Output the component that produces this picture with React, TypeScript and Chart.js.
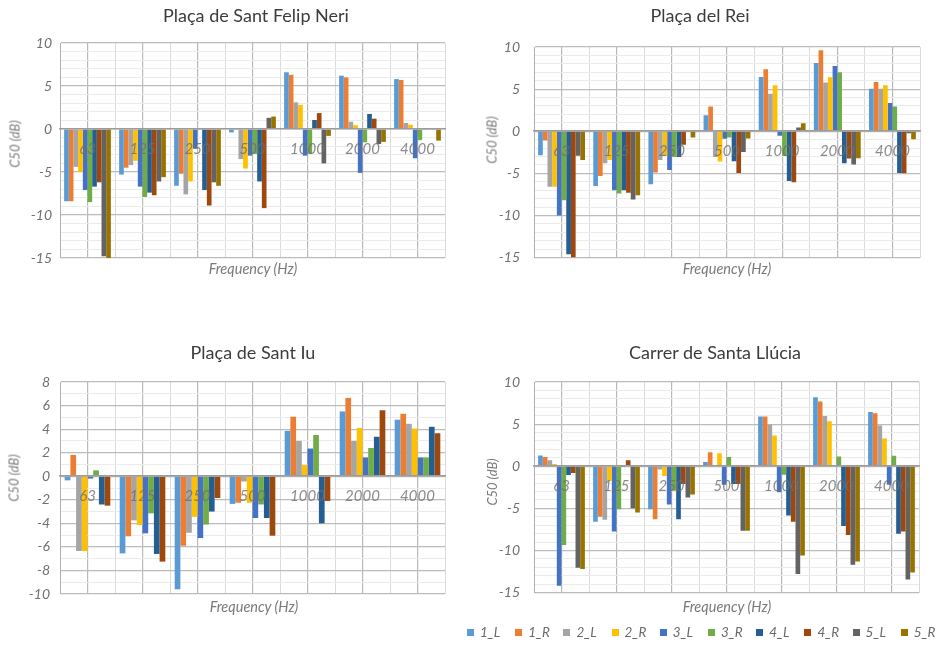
import React, { useEffect, useRef } from 'react';
import { Chart, registerables } from 'chart.js';

Chart.register(...registerables);

// Octave-band centre frequencies (Hz)
const frequencies = ['63', '125', '250', '500', '1000', '2000', '4000'];

// Receiver / channel names and their bar colours
const seriesNames = ['1_L', '1_R', '2_L', '2_R', '3_L', '3_R', '4_L', '4_R', '5_L', '5_R'];
const seriesColors = [
  '#5B9BD5', '#ED7D31', '#A5A5A5', '#FFC000', '#4472C4',
  '#70AD47', '#255E91', '#9E480E', '#636363', '#997300',
];

// C50 (dB) per channel, one row per channel, one value per frequency band
const santFelipNeri = [
  [-8.4, -5.3, -6.6, -0.4, 6.6, 6.2, 5.8],
  [-8.4, -4.5, -5.2, -0.1, 6.3, 6.0, 5.7],
  [-4.4, -4.2, -7.6, -3.5, 3.1, 0.85, 0.7],
  [-5.0, -3.7, -6.1, -4.6, 2.8, 0.45, 0.5],
  [-7.1, -6.7, -2.3, -3.1, -3.1, -5.1, -3.4],
  [-8.5, -7.9, -0.1, -2.9, -2.9, -1.55, -1.3],
  [-6.7, -7.4, -7.1, -6.1, 1.05, 1.75, -0.1],
  [-6.2, -7.7, -8.9, -9.2, 1.85, 1.2, -0.05],
  [-14.8, -6.1, -6.2, 1.3, -4.0, -1.75, -0.1],
  [-15.0, -5.6, -6.6, 1.45, -0.8, -1.5, -1.35],
];

const placaDelRei = [
  [-2.85, -6.5, -6.3, 1.9, 6.45, 8.1, 5.05],
  [-1.1, -5.3, -4.9, 2.95, 7.35, 9.6, 5.85],
  [-6.6, -3.8, -3.4, -3.05, 4.45, 5.8, 5.05],
  [-6.6, -3.4, -2.95, -3.6, 5.45, 6.4, 5.45],
  [-10.0, -7.0, -4.6, -0.9, -0.55, 7.75, 3.35],
  [-8.2, -7.4, -3.05, -0.75, -2.95, 7.0, 2.95],
  [-14.6, -7.0, -3.05, -3.55, -5.9, -3.8, -4.95],
  [-15.0, -7.3, -1.6, -4.95, -6.05, -3.25, -5.0],
  [-2.9, -8.1, -0.1, -2.45, 0.45, -3.95, -0.25],
  [-3.4, -7.6, -0.75, -0.85, 0.95, -3.2, -0.95],
];

const santIu = [
  [-0.35, -6.55, -9.6, -2.35, 3.85, 5.5, 4.8],
  [1.8, -5.1, -5.9, -2.25, 5.05, 6.65, 5.3],
  [-6.35, -3.75, -4.8, -0.45, 3.0, 3.0, 4.45],
  [-6.35, -4.15, -3.45, -2.25, 0.95, 4.1, 4.05],
  [-0.2, -4.85, -5.25, -3.55, 2.35, 1.6, 1.6],
  [0.5, -3.15, -4.1, -2.4, 3.5, 2.4, 1.6],
  [-2.4, -6.6, -3.0, -3.55, -4.0, 3.35, 4.2],
  [-2.5, -7.25, -1.85, -5.05, -2.1, 5.6, 3.65],
];

const santaLlucia = [
  [1.27, -6.6, -5.1, 0.5, 5.9, 8.2, 6.45],
  [1.1, -6.0, -6.3, 1.65, 5.9, 7.7, 6.3],
  [0.7, -6.35, -0.4, 0.05, 4.95, 5.95, 4.85],
  [0.27, -1.75, -1.15, 1.55, 3.65, 5.35, 3.3],
  [-14.2, -7.75, -4.55, -2.2, -3.1, -0.05, -2.2],
  [-9.35, -5.1, -2.9, 1.1, -1.0, 1.15, 1.25],
  [-1.05, -0.1, -6.3, -2.1, -5.85, -7.1, -8.0],
  [-0.8, 0.7, -2.1, -2.1, -6.6, -8.15, -7.75],
  [-12.05, -5.0, -3.7, -7.65, -12.8, -11.7, -13.45],
  [-12.2, -5.5, -3.35, -7.65, -10.6, -11.3, -12.6],
];

const FONT = 'Lato, "Liberation Sans", sans-serif';
const TICK_COLOR = '#707070';
const AXIS_TITLE_COLOR = '#7a7a7a';

type Box = { left: number; top: number; width: number; height: number };
type Area = { l: number; t: number; r: number; b: number };

type PanelSpec = {
  title: string;
  rows: number[][];
  yMin: number;
  yMax: number;
  major: number;
  canvas: Box;
  area: Area; // plot area in canvas coordinates
  tickPad: number;
  groupPct: number;
  titleAt: [number, number];
  yTitleAt: [number, number];
  xTitleAt: [number, number];
};

const panels: PanelSpec[] = [
  {
    title: 'Plaça de Sant Felip Neri',
    rows: santFelipNeri,
    yMin: -15, yMax: 10, major: 5,
    canvas: { left: 0, top: 0, width: 460, height: 280 },
    area: { l: 60, t: 43, r: 445, b: 258 },
    tickPad: 8, groupPct: 0.85,
    titleAt: [256, 15], yTitleAt: [15, 144], xTitleAt: [253, 269],
  },
  {
    title: 'Plaça del Rei',
    rows: placaDelRei,
    yMin: -15, yMax: 10, major: 5,
    canvas: { left: 465, top: 0, width: 474, height: 280 },
    area: { l: 69, t: 47, r: 455, b: 258 },
    tickPad: 14, groupPct: 0.85,
    titleAt: [700, 15], yTitleAt: [492, 140], xTitleAt: [727, 269],
  },
  {
    title: 'Plaça de Sant Iu',
    rows: santIu,
    yMin: -10, yMax: 8, major: 2,
    canvas: { left: 0, top: 335, width: 460, height: 280 },
    area: { l: 60, t: 47, r: 445, b: 259 },
    tickPad: 10, groupPct: 0.83,
    titleAt: [253, 352], yTitleAt: [14, 478], xTitleAt: [254, 607],
  },
  {
    title: 'Carrer de Santa Llúcia',
    rows: santaLlucia,
    yMin: -15, yMax: 10, major: 5,
    canvas: { left: 465, top: 335, width: 474, height: 280 },
    area: { l: 69, t: 47, r: 454, b: 259 },
    tickPad: 14, groupPct: 0.85,
    titleAt: [715, 352], yTitleAt: [492, 482], xTitleAt: [727, 607],
  },
];

function Panel({ spec }: { spec: PanelSpec }) {
  const ref = useRef<HTMLCanvasElement | null>(null);

  useEffect(() => {
    if (!ref.current) return;
    const { canvas, area, rows, yMin, yMax, major, tickPad, groupPct } = spec;
    const chart = new Chart(ref.current, {
      type: 'bar',
      data: {
        labels: frequencies,
        datasets: rows.map((vals, i) => ({
          label: seriesNames[i],
          data: vals,
          backgroundColor: seriesColors[i],
          borderWidth: 0,
          barPercentage: 1,
          categoryPercentage: groupPct,
          xAxisID: 'x',
          yAxisID: 'y',
        })),
      },
      options: {
        responsive: false,
        animation: false,
        devicePixelRatio: 1,
        layout: {
          padding: {
            left: 0,
            top: area.t,
            right: canvas.width - area.r,
            bottom: canvas.height - area.b,
          },
        },
        plugins: {
          legend: { display: false },
          tooltip: { enabled: false },
          title: { display: false },
        },
        scales: {
          // frequency labels sit on the zero line, drawn above the bars
          x: {
            type: 'category',
            position: { y: 0 },
            offset: true,
            grid: { display: false, drawTicks: false },
            border: { display: true, color: '#9c9c9c', width: 1.5, z: 1 },
            ticks: {
              z: 2,
              padding: 11,
              color: 'rgba(110,110,110,0.8)',
              font: { family: FONT, size: 15, style: 'italic' },
              maxRotation: 0,
              autoSkip: false,
            },
          },
          // light lines on category boundaries
          xEdges: {
            type: 'category',
            axis: 'x',
            position: 'bottom',
            offset: true,
            grid: { offset: true, color: '#dadada', lineWidth: 1, drawTicks: false },
            ticks: { display: false },
            border: { display: false },
          },
          // darker lines through category centres
          xMid: {
            type: 'category',
            axis: 'x',
            position: 'bottom',
            offset: true,
            grid: { offset: false, color: '#b9b9b9', lineWidth: 1.2, drawTicks: false },
            ticks: { display: false },
            border: { display: false },
          },
          y: {
            type: 'linear',
            position: 'left',
            min: yMin,
            max: yMax,
            afterFit: (scale: any) => {
              scale.width = area.l;
            },
            grid: {
              drawTicks: false,
              color: (ctx: any) =>
                Math.round(ctx.tick.value) % major === 0 ? '#bcbcbc' : '#ebebeb',
              lineWidth: (ctx: any) =>
                Math.round(ctx.tick.value) % major === 0 ? 1.2 : 1,
            },
            border: { display: true, color: '#b0b0b0', width: 1 },
            ticks: {
              stepSize: 1,
              autoSkip: false,
              maxTicksLimit: 100,
              padding: tickPad,
              color: TICK_COLOR,
              font: { family: FONT, size: 14, style: 'italic' },
              callback: (v: any) => (Math.round(v) % major === 0 ? String(Math.round(v)) : ''),
            },
          },
        },
      },
    });
    return () => chart.destroy();
  }, [spec]);

  const { canvas } = spec;
  const textBase: React.CSSProperties = {
    position: 'absolute',
    whiteSpace: 'nowrap',
    fontFamily: FONT,
    transform: 'translate(-50%, -50%)',
    lineHeight: 1,
  };

  return (
    <>
      <canvas
        ref={ref}
        width={canvas.width}
        height={canvas.height}
        style={{
          position: 'absolute',
          left: canvas.left,
          top: canvas.top,
          width: canvas.width,
          height: canvas.height,
        }}
      />
      <div
        style={{
          ...textBase,
          left: spec.titleAt[0],
          top: spec.titleAt[1],
          fontSize: 18,
          color: '#3c3c3c',
        }}
      >
        {spec.title}
      </div>
      <div
        style={{
          ...textBase,
          left: spec.yTitleAt[0],
          top: spec.yTitleAt[1],
          fontSize: 13,
          fontStyle: 'italic',
          color: AXIS_TITLE_COLOR,
          transform: 'translate(-50%, -50%) rotate(-90deg)',
        }}
      >
        C50 (dB)
      </div>
      <div
        style={{
          ...textBase,
          left: spec.xTitleAt[0],
          top: spec.xTitleAt[1],
          fontSize: 14.5,
          fontStyle: 'italic',
          color: AXIS_TITLE_COLOR,
        }}
      >
        Frequency (Hz)
      </div>
    </>
  );
}

function Legend() {
  return (
    <>
      {seriesNames.map((name, i) => (
        <div
          key={name}
          style={{
            position: 'absolute',
            left: 467 + i * 48.2,
            top: 625,
            height: 14,
            display: 'flex',
            alignItems: 'center',
            fontFamily: FONT,
            fontSize: 13.5,
            fontStyle: 'italic',
            color: '#6a6a6a',
            whiteSpace: 'nowrap',
          }}
        >
          <span
            style={{
              display: 'inline-block',
              width: 7,
              height: 7,
              background: seriesColors[i],
              marginRight: 6,
            }}
          />
          {name}
        </div>
      ))}
    </>
  );
}

export default function App() {
  return (
    <div
      style={{
        position: 'absolute',
        left: 0,
        top: 0,
        width: 939,
        height: 646,
        background: '#ffffff',
        overflow: 'hidden',
      }}
    >
      {panels.map((p) => (
        <Panel key={p.title} spec={p} />
      ))}
      <Legend />
    </div>
  );
}
